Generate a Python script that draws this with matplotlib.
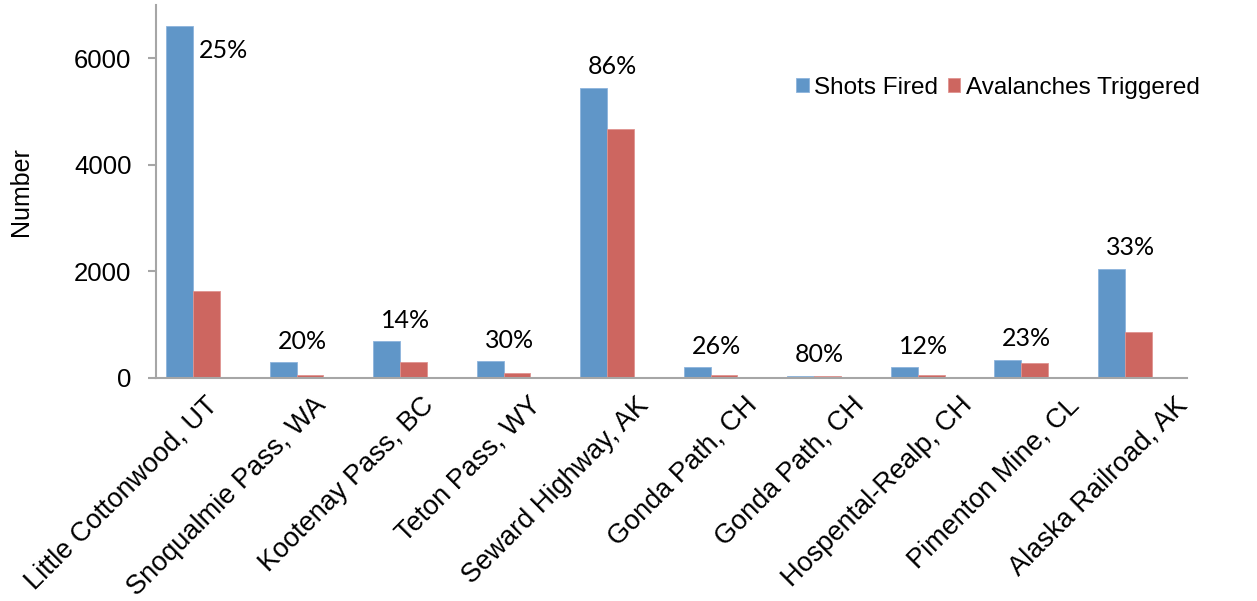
import matplotlib
matplotlib.use("Agg")
import matplotlib.pyplot as plt
import matplotlib.transforms as mtransforms
import numpy as np

# ----------------------------
# Data
# ----------------------------
sites = ["Little Cottonwood, UT", "Snoqualmie Pass, WA", "Kootenay Pass, BC",
         "Teton Pass, WY", "Seward Highway, AK", "Gonda Path, CH",
         "Gonda Path, CH", "Hospental-Realp, CH", "Pimenton Mine, CL",
         "Alaska Railroad, AK"]
shots_fired = [6610, 285, 690, 315, 5450, 195, 35, 195, 335, 2050]
avalanches_triggered = [1620, 45, 285, 90, 4670, 45, 30, 45, 270, 860]
pct_labels = ["25%", "20%", "14%", "30%", "86%", "26%", "80%", "12%", "23%", "33%"]

BLUE = "#6096C8"
RED = "#CD6660"
AXIS_GREY = "#A6A6A6"

# ----------------------------
# Plot
# ----------------------------
fig = plt.figure(figsize=(12.57, 6.01), dpi=100)
ax = fig.add_axes([0.1239, 0.3716, 0.8202, 0.6201])

x = np.arange(len(sites))
w = 0.26
ax.bar(x - w / 2, shots_fired, w, color=BLUE, edgecolor="#8DB4DC",
       linewidth=0.6, label="Shots Fired")
ax.bar(x + w / 2, avalanches_triggered, w, color=RED, edgecolor="#E09490",
       linewidth=0.6, label="Avalanches Triggered")

ax.set_xlim(-0.36, 9.6)
ax.set_ylim(0, 7000)
ax.set_yticks([0, 2000, 4000, 6000])

for s in ["top", "right"]:
    ax.spines[s].set_visible(False)
for s in ["left", "bottom"]:
    ax.spines[s].set_color(AXIS_GREY)
    ax.spines[s].set_linewidth(1.5)

ax.tick_params(axis="y", direction="out", length=5.5, width=1.5,
               color=AXIS_GREY, pad=12, labelsize=18.5)
ax.tick_params(axis="x", length=0, pad=4)
for lab in ax.get_yticklabels():
    lab.set_family("Liberation Sans")

ax.set_xticks(x)
ax.set_xticklabels(sites, rotation=45, ha="right", va="top",
                   rotation_mode="anchor", fontsize=19.5, family="Liberation Sans")
for i, lab in enumerate(ax.get_xticklabels()):
    dx = (12 + 4.2 * i) / 100.0
    lab.set_transform(lab.get_transform() +
                      mtransforms.ScaledTranslation(dx, -0.09, fig.dpi_scale_trans))

ax.set_ylabel("Number", fontsize=18, family="Liberation Sans")
ax.yaxis.set_label_coords(-0.119, 0.5)

# percentage labels above each group
for i, (v, txt) in enumerate(zip(shots_fired, pct_labels)):
    if v > 6000:
        # no room above: Excel put it beside the bar
        ax.annotate(txt, (i, v), xytext=(22, -18), textcoords="offset points",
                    ha="center", va="center", fontsize=18, family="Lato")
    else:
        ax.annotate(txt, (i, v), xytext=(4, 15), textcoords="offset points",
                    ha="center", va="center", fontsize=18, family="Lato")

ax.legend(loc="center left", bbox_to_anchor=(796 / 1257, 1 - 87.7 / 601),
          bbox_transform=fig.transFigure, ncol=2, frameon=False,
          borderpad=0, borderaxespad=0, handlelength=0.52, handleheight=0.54,
          handletextpad=0.22, columnspacing=0.4,
          prop={"family": "Liberation Sans", "size": 17.5})

fig.savefig("out.png", dpi=100)
